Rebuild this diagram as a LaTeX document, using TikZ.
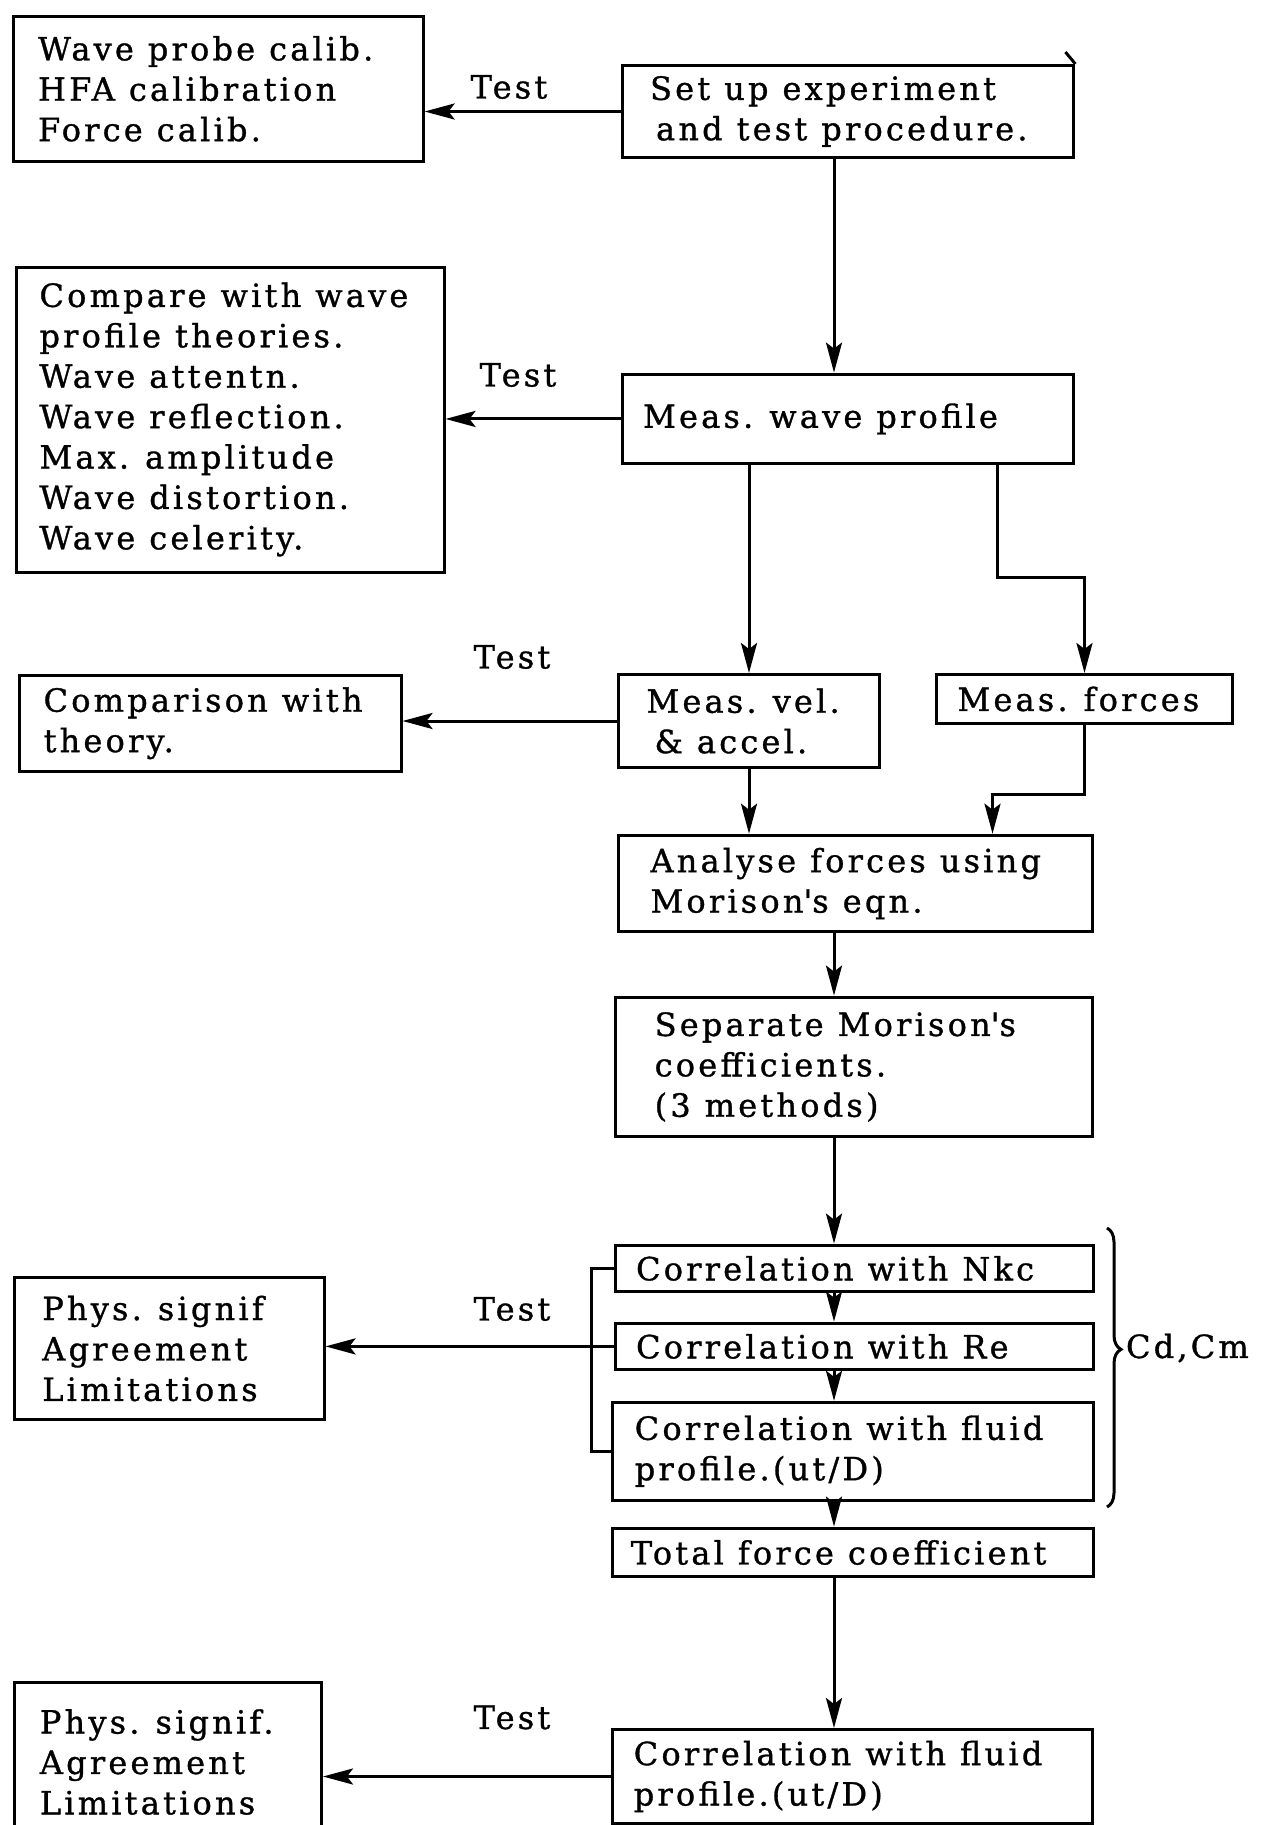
\documentclass[tikz,border=0pt]{standalone}
\usepackage{fontspec}
\newfontfamily\typefont{DejaVu Serif}[LetterSpace=10, FakeBold=1]
\usetikzlibrary{arrows.meta, decorations.pathreplacing}
\tikzstyle{arrow} = [line width=1.5pt,-{Stealth[length=15pt,width=8pt,inset=3pt]}]
\tikzstyle{block} = [draw, line width=1.5pt, anchor=north west, align=left, inner ysep=0pt, execute at begin node={\spaceskip=7pt\relax}]

\begin{document}
\begin{tikzpicture}[x=0.5pt, y=-0.5pt, font=\typefont\fontsize{16}{20.2}\selectfont]
        \useasboundingbox (0,0) rectangle (1268,1825);
        \coordinate (spine) at (834,0);

        % main column
        \node at (620.6,64) [block, minimum height=46pt, inner xsep=14pt, text width=197.9pt](setup) {Set up experiment\\\hspace*{3pt}and test procedure.};
        \node at (620.6,372.6) [block, minimum height=44.85pt, inner xsep=10.5pt, text width=204.9pt](measwave) {Meas. wave profile};
        \node at (617,673) [block, minimum height=46.5pt, inner xsep=14pt, text width=102.5pt](measvel) {Meas. vel.\\\hspace*{4pt}\& accel.};
        \node at (935,673) [block, minimum height=24.5pt, inner xsep=10.5pt, text width=127pt](measforces) {Meas. forces};
        \node at (617,833.7) [block, minimum height=48.35pt, inner xsep=16pt, text width=205pt](analyse) {Analyse forces using\\Morison\textquotesingle s eqn.};
        \node at (613.6,995.6) [block, minimum height=69.85pt, inner xsep=19.8pt, text width=199.1pt](separate) {Separate Morison\textquotesingle s\\coefficients.\\(3 methods)};
        \node at (613.6,1243.6) [block, minimum height=23.3pt, inner xsep=10.5pt, text width=218.2pt](corrnkc) {Correlation with Nkc};
        \node at (613.6,1321.6) [block, minimum height=23.3pt, inner xsep=10.5pt, text width=218.2pt](corrre) {Correlation with Re};
        \node at (611.3,1400.8) [block, minimum height=48.9pt, inner xsep=11pt, text width=218.35pt](corrfluid) {Correlation with fluid\\profile.(ut/D)};
        \node at (611.3,1526.6) [block, minimum height=24.4pt, inner xsep=9pt, text width=222.35pt](total) {Total force coefficient};
        \node at (611.3,1728) [block, minimum height=47pt, inner xsep=10.5pt, text width=218.85pt](lastcorr) {Correlation with fluid\\profile.(ut/D)};

        % test results on the left
        \node at (11.6,15) [block, minimum height=72.3pt, inner xsep=12.5pt, text width=180pt](calib) {Wave probe calib.\\HFA calibration\\Force calib.};
        \node at (15,265.5) [block, minimum height=152.5pt, inner xsep=11.5pt, text width=190.75pt](compare) {Compare with wave\\profile theories.\\Wave attentn.\\Wave reflection.\\Max. amplitude\\Wave distortion.\\Wave celerity.};
        \node at (17.5,674) [block, minimum height=47.8pt, inner xsep=12.3pt, text width=166.4pt](comparison) {Comparison with\\theory.};
        \node at (12.8,1276) [block, minimum height=71pt, inner xsep=14pt, text width=126.85pt](phys1) {Phys. signif\\Agreement\\Limitations};
        \node at (12.8,1681) [block, minimum height=79.5pt, inner xsep=12.8pt, text width=128pt](phys2) {Phys. signif.\\Agreement\\Limitations};

        \node at (509,87) (test1) {Test};
        \node at (518,375) (test2) {Test};
        \node at (512,657) (test3) {Test};
        \node at (512,1309) (test4) {Test};
        \node at (512,1717.5) (test5) {Test};

        \draw[arrow] (setup.west) -- (setup.west -| calib.east);
        \draw[arrow] (setup.south -| spine) -- (measwave.north -| spine);
        \draw[line width=1.5pt] (setup.north east) -- ++(-10,-12);
        \draw[arrow] (measwave.west) -- (measwave.west -| compare.east);
        \draw[arrow] (measvel.north |- measwave.south) -- (measvel.north);
        \draw[arrow] ([xshift=74.5pt]measwave.south) -- ++(0,111.7) -| (measforces.north);
        \draw[arrow] (measvel.west) -- (measvel.west -| comparison.east);
        \draw[arrow] (measvel.south) -- (measvel.south |- analyse.north);
        \draw[arrow] (measforces.south) -- ++(0,69.8) -| ([xshift=68.5pt]analyse.north);
        \draw[arrow] (analyse.south -| spine) -- (separate.north -| spine);
        \draw[arrow] (separate.south -| spine) -- (corrnkc.north -| spine);
        \draw[arrow] (corrnkc.south -| spine) -- (corrre.north -| spine);
        \draw[arrow] (corrre.south -| spine) -- (corrfluid.north -| spine);
        \draw[arrow] (corrfluid.south -| spine) -- (total.north -| spine);
        \draw[arrow] (total.south -| spine) -- (lastcorr.north -| spine);

        \draw[line width=1.5pt] (corrnkc.west) -- ++(-22,0) |- (corrfluid.west);
        \draw[arrow] (corrre.west) -- (corrre.west -| phys1.east);
        \draw[arrow] (lastcorr.west) -- (lastcorr.west -| phys2.east);

        \draw[line width=1.5pt, decorate, decoration={brace, amplitude=7pt, aspect=0.435}] ([xshift=6pt,yshift=7.8pt]corrnkc.north east) -- ([xshift=6pt,yshift=-2.7pt]corrfluid.south east);
        \node at (1119,1348) [anchor=west](cdcm) {Cd,Cm};

    \end{tikzpicture}
\end{document}
